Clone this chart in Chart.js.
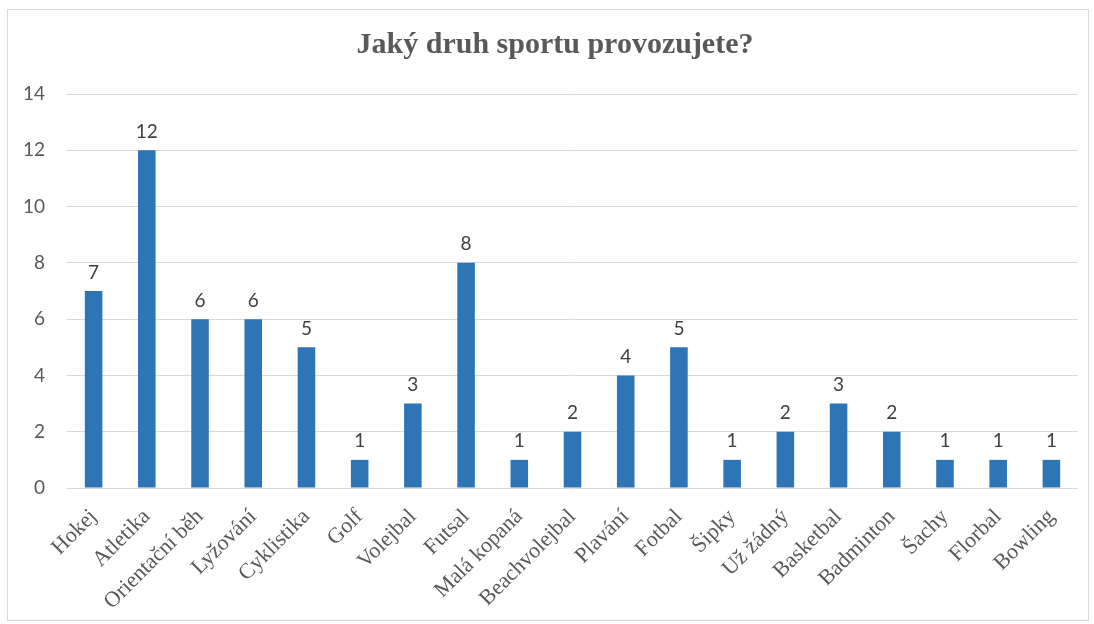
<!DOCTYPE html>
<html>
<head>
<meta charset="utf-8">
<script src="https://cdn.jsdelivr.net/npm/chart.js@4"></script>
<style>
  html, body { margin: 0; padding: 0; background: #fff; }
  #wrap { position: relative; width: 1094px; height: 624px; }
  #frame { position: absolute; left: 7px; top: 9px; width: 1080px; height: 610px; border: 1px solid #d9d9d9; }
  #chart { position: absolute; left: 0; top: 0; }
</style>
</head>
<body>
<div id="wrap">
  <div id="frame"></div>
  <canvas id="chart" width="1094" height="624"></canvas>
</div>
<script>
const sports = [
  'Hokej', 'Atletika', 'Orientační běh', 'Lyžování', 'Cyklistika', 'Golf',
  'Volejbal', 'Futsal', 'Malá kopaná', 'Beachvolejbal', 'Plavání', 'Fotbal',
  'Šipky', 'Už žádný', 'Basketbal', 'Badminton', 'Šachy', 'Florbal', 'Bowling'
];
const counts = [7, 12, 6, 6, 5, 1, 3, 8, 1, 2, 4, 5, 1, 2, 3, 2, 1, 1, 1];
const yTicks = [0, 2, 4, 6, 8, 10, 12, 14];

const valueLabels = {
  id: 'valueLabels',
  afterDatasetsDraw(chart) {
    const ctx = chart.ctx;
    const meta = chart.getDatasetMeta(0);
    ctx.save();
    ctx.font = '19px Lato';
    ctx.fillStyle = '#404040';
    ctx.textAlign = 'center';
    ctx.textBaseline = 'bottom';
    meta.data.forEach((bar, i) => {
      ctx.fillText(String(counts[i]), bar.x, bar.y - 9);
    });
    ctx.restore();
  },
};

// nudge the title a bit to the right, the original is centred on the frame
const titleShift = {
  id: 'titleShift',
  afterLayout(chart) {
    if (chart.titleBlock) chart.titleBlock.left = 32;
  },
};

new Chart(document.getElementById('chart').getContext('2d'), {
  type: 'bar',
  data: {
    labels: sports,
    datasets: [{
      data: counts,
      backgroundColor: '#2e75b6',
      borderWidth: 0,
      categoryPercentage: 1,
      barPercentage: 0.33,
    }],
  },
  plugins: [valueLabels, titleShift],
  options: {
    responsive: false,
    animation: false,
    layout: { padding: { left: 0, right: 16, top: 0, bottom: 0 } },
    plugins: {
      legend: { display: false },
      tooltip: { enabled: false },
      title: {
        display: true,
        text: 'Jaký druh sportu provozujete?',
        color: '#595959',
        font: { family: '"Liberation Serif"', size: 30, weight: 'bold', lineHeight: 1.2 },
        padding: { top: 27, bottom: 31 },
      },
    },
    scales: {
      x: {
        grid: { display: false },
        border: { display: false },
        ticks: {
          color: '#595959',
          font: { family: '"Liberation Serif"', size: 22 },
          minRotation: 45,
          maxRotation: 45,
          autoSkip: false,
          padding: 8,
        },
        afterFit(scale) { scale.height = 136; },
      },
      y: {
        min: 0,
        max: 14,
        afterBuildTicks(scale) { scale.ticks = yTicks.map(v => ({ value: v })); },
        grid: { color: '#d9d9d9', lineWidth: 1, drawTicks: false },
        border: { display: false },
        ticks: {
          color: '#595959',
          font: { family: 'Lato', size: 19 },
          padding: 22,
        },
        afterFit(scale) { scale.width = 67; },
      },
    },
  },
});
</script>
</body>
</html>
